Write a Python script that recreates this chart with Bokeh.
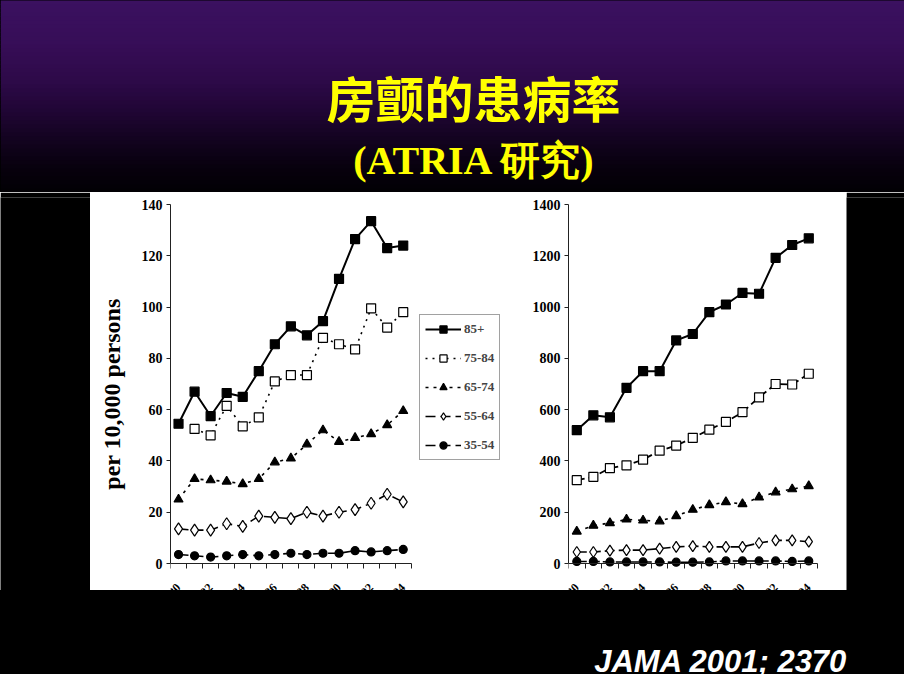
import numpy as np
from bokeh.plotting import figure
from bokeh.layouts import column, row
from bokeh.models import FixedTicker, Range1d, Legend, LegendItem, LinearAxis
from bokeh.core.properties import value
from bokeh.embed import file_html
from bokeh.resources import INLINE

# ---------------- data ----------------
title_main = "房颤的患病率"
title_sub = "(ATRIA 研究)"
citation = "JAMA 2001; 2370"
y_axis_label = "per 10,000 persons"

periods = list(range(1, 16))
year_labels = ["1980", "1982", "1984", "1986", "1988", "1990", "1992", "1994"]
year_positions = periods[::2]

groups = ["85+", "75-84", "65-74", "55-64", "35-54"]

left_85 = [54.5, 67, 57.5, 66.5, 65, 75, 85.5, 92.5, 89, 94.5, 111, 126.5, 133.5, 123, 124]
left_75_periods = periods[1:]
left_75 = [52.5, 50, 61.5, 53.5, 57, 71, 73.5, 73.5, 88, 85.5, 83.5, 99.5, 92, 98]
left_65 = [25, 33, 32.5, 32, 31, 33, 39.5, 41, 46.5, 52, 47.5, 49, 50.5, 54, 59.5]
left_55 = [13.5, 13, 13, 15.5, 14.5, 18.5, 18, 17.5, 20, 18.5, 20, 21, 23.5, 27, 24]
left_35 = [3.5, 3, 2.5, 3, 3.5, 3, 3.5, 4, 3.5, 4, 4, 5, 4.5, 5, 5.5]

right_85 = [520, 578, 570, 685, 750, 750, 870, 895, 980, 1010, 1055, 1052, 1192, 1242, 1268]
right_75 = [325, 338, 372, 383, 405, 440, 460, 490, 522, 552, 590, 648, 700, 698, 740]
right_65 = [125, 148, 158, 172, 168, 165, 185, 210, 228, 240, 232, 258, 278, 290, 302]
right_55 = [45, 45, 50, 52, 52, 58, 65, 68, 65, 65, 65, 80, 90, 90, 85]
right_35 = [8, 8, 6, 6, 6, 6, 5, 5, 6, 10, 10, 10, 10, 8, 10]

left_ticks = [0, 20, 40, 60, 80, 100, 120, 140]
right_ticks = [0, 200, 400, 600, 800, 1000, 1200, 1400]

# ---------------- styles ----------------
SERIF = "Liberation Serif"
styles_left = {
    "85+":   dict(marker="square",   fill="black", dash="solid", lw=2.0, size=9),
    "75-84": dict(marker="square",   fill="white", dash="2 5",   lw=1.6, size=9),
    "65-74": dict(marker="triangle", fill="black", dash="3 5",   lw=1.6, size=9),
    "55-64": dict(marker="diamond",  fill="white", dash="10 5",  lw=1.6, size=12),
    "35-54": dict(marker="circle",   fill="black", dash="10 5",  lw=1.6, size=8),
}
styles_right = {
    "85+":   dict(marker="square",   fill="black", dash="solid", lw=2.0, size=9),
    "75-84": dict(marker="square",   fill="white", dash="8 4",   lw=1.8, size=9),
    "65-74": dict(marker="triangle", fill="black", dash="3 6",   lw=1.6, size=9),
    "55-64": dict(marker="diamond",  fill="white", dash="10 4",  lw=1.6, size=11),
    "35-54": dict(marker="circle",   fill="black", dash="10 3",  lw=1.6, size=8),
}

H_ROW = 398
FRAME_TOP = 5
FRAME_H = H_ROW - FRAME_TOP


def black_box(w, h):
    f = figure(width=w, height=h, output_backend="svg", toolbar_location=None,
               x_axis_location=None, y_axis_location=None,
               min_border_left=0, min_border_right=0, min_border_top=0, min_border_bottom=0,
               background_fill_color="black", border_fill_color="black", outline_line_color=None,
               x_range=Range1d(0, 1), y_range=Range1d(0, 1))
    f.grid.visible = False
    return f


def chart(width, border_left, spacing_px, y_max, ticks, series, styles, ylabel=None, legend_loc=None):
    frame_w = width - border_left
    ppu = 359.0 / y_max              # pixels per data unit
    y_end = y_max + 7.0 / ppu
    y_start = -(FRAME_H - 7 - 359) / ppu
    x_end = 0.5 + frame_w / spacing_px
    p = figure(width=width, height=H_ROW, output_backend="svg", toolbar_location=None,
               x_range=Range1d(0.5, x_end), y_range=Range1d(y_start, y_end),
               x_axis_location=None, y_axis_location=None,
               min_border_left=border_left, min_border_right=0,
               min_border_top=FRAME_TOP, min_border_bottom=0,
               background_fill_color="white", border_fill_color="white",
               outline_line_color=None)
    p.grid.visible = False

    yax = LinearAxis(ticker=FixedTicker(ticks=ticks), bounds=(0, y_max))
    yax.major_label_text_font = SERIF
    yax.major_label_text_font_style = "bold"
    yax.major_label_text_font_size = "14px"
    yax.major_label_text_color = "black"
    yax.major_tick_out = 4
    yax.major_tick_in = 0
    yax.minor_tick_out = 0
    yax.minor_tick_in = 0
    yax.major_label_standoff = 4
    yax.axis_line_color = "#222222"
    yax.major_tick_line_color = "#222222"
    if ylabel:
        yax.axis_label = ylabel
        yax.axis_label_text_font = SERIF
        yax.axis_label_text_font_style = "bold"
        yax.axis_label_text_font_size = "24px"
        yax.axis_label_text_color = "black"
        yax.axis_label_standoff = 14
    p.add_layout(yax, "left")

    xticks = [k + 0.5 for k in range(0, 16)]
    xax = LinearAxis(ticker=FixedTicker(ticks=xticks), bounds=(0.5, 15.5), fixed_location=0)
    xax.major_label_overrides = {t: "" for t in xticks}
    xax.major_tick_out = 5
    xax.major_tick_in = 0
    xax.minor_tick_out = 0
    xax.minor_tick_in = 0
    xax.axis_line_color = "#222222"
    xax.major_tick_line_color = "#222222"
    p.add_layout(xax, "below")

    items = []
    for g in groups:
        xs, ys = series[g]
        st = styles[g]
        ln = p.line(xs, ys, line_color="black", line_width=st["lw"], line_dash=st["dash"])
        sc = p.scatter(xs, ys, marker=st["marker"], size=st["size"], fill_color=st["fill"],
                       line_color="black", line_width=1.2)
        items.append(LegendItem(label=g, renderers=[ln, sc]))

    # x tick labels (cut off by the lower edge of the scanned figure)
    label_y = -22.0 / ppu
    p.text(x=year_positions, y=[label_y] * len(year_positions), text=year_labels,
           angle=np.pi / 4, text_align="right", text_baseline="middle",
           text_font=value(SERIF), text_font_style="bold", text_font_size="12px",
           text_color="black")

    if legend_loc is not None:
        lg = Legend(items=items, location=legend_loc)
        lg.label_text_font = SERIF
        lg.label_text_font_style = "bold"
        lg.label_text_font_size = "13px"
        lg.glyph_width = 36
        lg.glyph_height = 18
        lg.label_height = 18
        lg.label_standoff = 3
        lg.spacing = 11
        lg.padding = 5
        lg.margin = 0
        lg.border_line_color = "#444444"
        lg.border_line_width = 1
        lg.background_fill_color = "white"
        lg.background_fill_alpha = 1.0
        p.add_layout(lg)
    return p


left_series = {
    "85+": (periods, left_85),
    "75-84": (left_75_periods, left_75),
    "65-74": (periods, left_65),
    "55-64": (periods, left_55),
    "35-54": (periods, left_35),
}
right_series = {
    "85+": (periods, right_85),
    "75-84": (periods, right_75),
    "65-74": (periods, right_65),
    "55-64": (periods, right_55),
    "35-54": (periods, right_35),
}

left = chart(432, 80, 16.05, 140, left_ticks, left_series, styles_left,
             ylabel=y_axis_label, legend_loc=(249, 130))
right = chart(324, 46, 16.57, 1400, right_ticks, right_series, styles_right)

# ---------------- title band ----------------
W = 904
TOP_H = 192
top = figure(width=W, height=TOP_H, output_backend="svg", toolbar_location=None,
             x_range=Range1d(0, W), y_range=Range1d(0, TOP_H),
             x_axis_location=None, y_axis_location=None,
             min_border_left=0, min_border_right=0, min_border_top=0, min_border_bottom=0,
             background_fill_color="black", border_fill_color="black", outline_line_color=None)
top.grid.visible = False

# purple-to-black vertical gradient (decoration)
stop_y = [0, 50, 90, 120, 150, 175, 200]
stop_r = [60, 55, 45, 32, 18, 8, 2]
stop_g = [18, 14, 10, 6, 3, 1, 0]
stop_b = [98, 88, 72, 52, 30, 14, 4]
band = 4
bottoms, tops, cols = [], [], []
for yb in range(0, TOP_H, band):
    ref_y = 8 + (TOP_H - (yb + band / 2))
    r = int(np.interp(ref_y, stop_y, stop_r))
    g = int(np.interp(ref_y, stop_y, stop_g))
    b = int(np.interp(ref_y, stop_y, stop_b))
    bottoms.append(yb)
    tops.append(yb + band + 0.5)
    cols.append("#%02x%02x%02x" % (r, g, b))
top.quad(left=0, right=W, bottom=bottoms, top=tops, fill_color=cols, line_color=None)

top.text(x=[473], y=[96], text=[title_main], text_align="center", text_baseline="middle",
         text_font=value("Noto Sans CJK SC"), text_font_style="bold", text_font_size="49px",
         text_color="#ffff00")
top.text(x=[474], y=[32], text=[title_sub], text_align="center", text_baseline="middle",
         text_font=value(SERIF), text_font_style="bold", text_font_size="40px",
         text_color="#ffff00")

# ---------------- bottom band ----------------
BOT_H = 84
bottom = figure(width=W, height=BOT_H, output_backend="svg", toolbar_location=None,
                x_range=Range1d(0, W), y_range=Range1d(0, BOT_H),
                x_axis_location=None, y_axis_location=None,
                min_border_left=0, min_border_right=0, min_border_top=0, min_border_bottom=0,
                background_fill_color="black", border_fill_color="black", outline_line_color=None)
bottom.grid.visible = False
bottom.text(x=[847], y=[13], text=[citation], text_align="right", text_baseline="alphabetic",
            text_font=value("Liberation Sans"), text_font_style="bold italic",
            text_font_size="31px", text_color="white")

chart_row = row(black_box(90, H_ROW), left, right, black_box(58, H_ROW),
                styles={"background-color": "white"})
layout = column(top, chart_row, bottom, styles={"background-color": "black"})

open("out.html", "w").write(file_html(layout, INLINE))
